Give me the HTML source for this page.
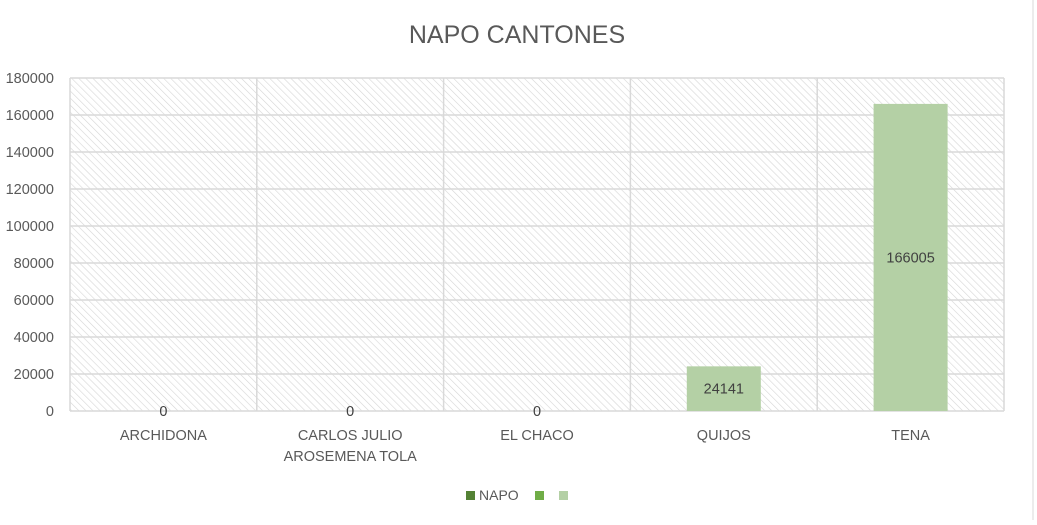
<!DOCTYPE html>
<html><head><meta charset="utf-8"><style>
body{margin:0;background:#fff;font-family:"Liberation Sans",sans-serif}
</style></head><body>
<svg width="1037" height="520" xmlns="http://www.w3.org/2000/svg">
<defs><pattern id="hatch" width="5" height="5" patternUnits="userSpaceOnUse" patternTransform="rotate(-45)">
<rect width="5" height="5" fill="#fff"/><line x1="0" y1="0" x2="0" y2="5" stroke="#d6d6d6" stroke-width="1.2"/></pattern></defs>
<line x1="1033" y1="0" x2="1033" y2="520" stroke="#d9d9d9"/>
<text x="517" y="43" text-anchor="middle" font-size="25" fill="#595959">NAPO CANTONES</text>
<rect x="70" y="78" width="934" height="333" fill="url(#hatch)"/>
<g id="grid"></g><g id="bars"></g><g id="labels"></g>
<g>
<rect x="466" y="491" width="9" height="9" fill="#548235"/>
<text x="479" y="500" font-size="14" fill="#595959">NAPO</text>
<rect x="535" y="491" width="9" height="9" fill="#70ad47"/>
<rect x="559" y="491" width="9" height="9" fill="#b4d0a5"/>
</g>
</svg>
<script>
const categories=["ARCHIDONA","CARLOS JULIO|AROSEMENA TOLA","EL CHACO","QUIJOS","TENA"];
const values=[0,0,0,24141,166005];
const ticks=[0,20000,40000,60000,80000,100000,120000,140000,160000,180000];
const NS="http://www.w3.org/2000/svg";
const x0=70,x1=1004,yTop=78,yBot=411,max=180000;
const bw=(x1-x0)/categories.length;
const y=v=>yBot-(v/max)*(yBot-yTop);
const g=document.getElementById('grid'),b=document.getElementById('bars'),l=document.getElementById('labels');
function mk(t,a,p){const e=document.createElementNS(NS,t);for(const k in a)e.setAttribute(k,a[k]);p.appendChild(e);return e;}
ticks.forEach(t=>{
 const ln=mk('line',{x1:x0,x2:x1,y1:y(t),y2:y(t),stroke:'#d9d9d9','stroke-width':1.5},g);
 
 
 const tx=mk('text',{x:54,y:y(t)+5,'text-anchor':'end','font-size':14.5,fill:'#595959'},g);
 tx.textContent=t;
 
 
});
for(let i=0;i<=categories.length;i++){
 const ln=mk('line',{x1:x0+i*bw,x2:x0+i*bw,y1:yTop,y2:yBot,stroke:'#d9d9d9','stroke-width':1.5},g);
 
 
}
categories.forEach((c,i)=>{
 const cx=x0+(i+0.5)*bw,v=values[i];
 const r=mk('rect',{x:cx-37,y:y(v),width:74,height:yBot-y(v),fill:'#b4d0a5'},b);
 
 
 const vt=mk('text',{x:cx,y:v>0?(y(v)+yBot)/2+5:yBot+5,'text-anchor':'middle','font-size':14.5,fill:'#404040'},l);
 vt.textContent=v;
 
 
 c.split('|').forEach((s,j)=>{
  const t=mk('text',{x:cx,y:440+j*21,'text-anchor':'middle','font-size':14.5,fill:'#595959'},l);
  t.textContent=s;
  
  
 });
});
</script>
</body></html>
